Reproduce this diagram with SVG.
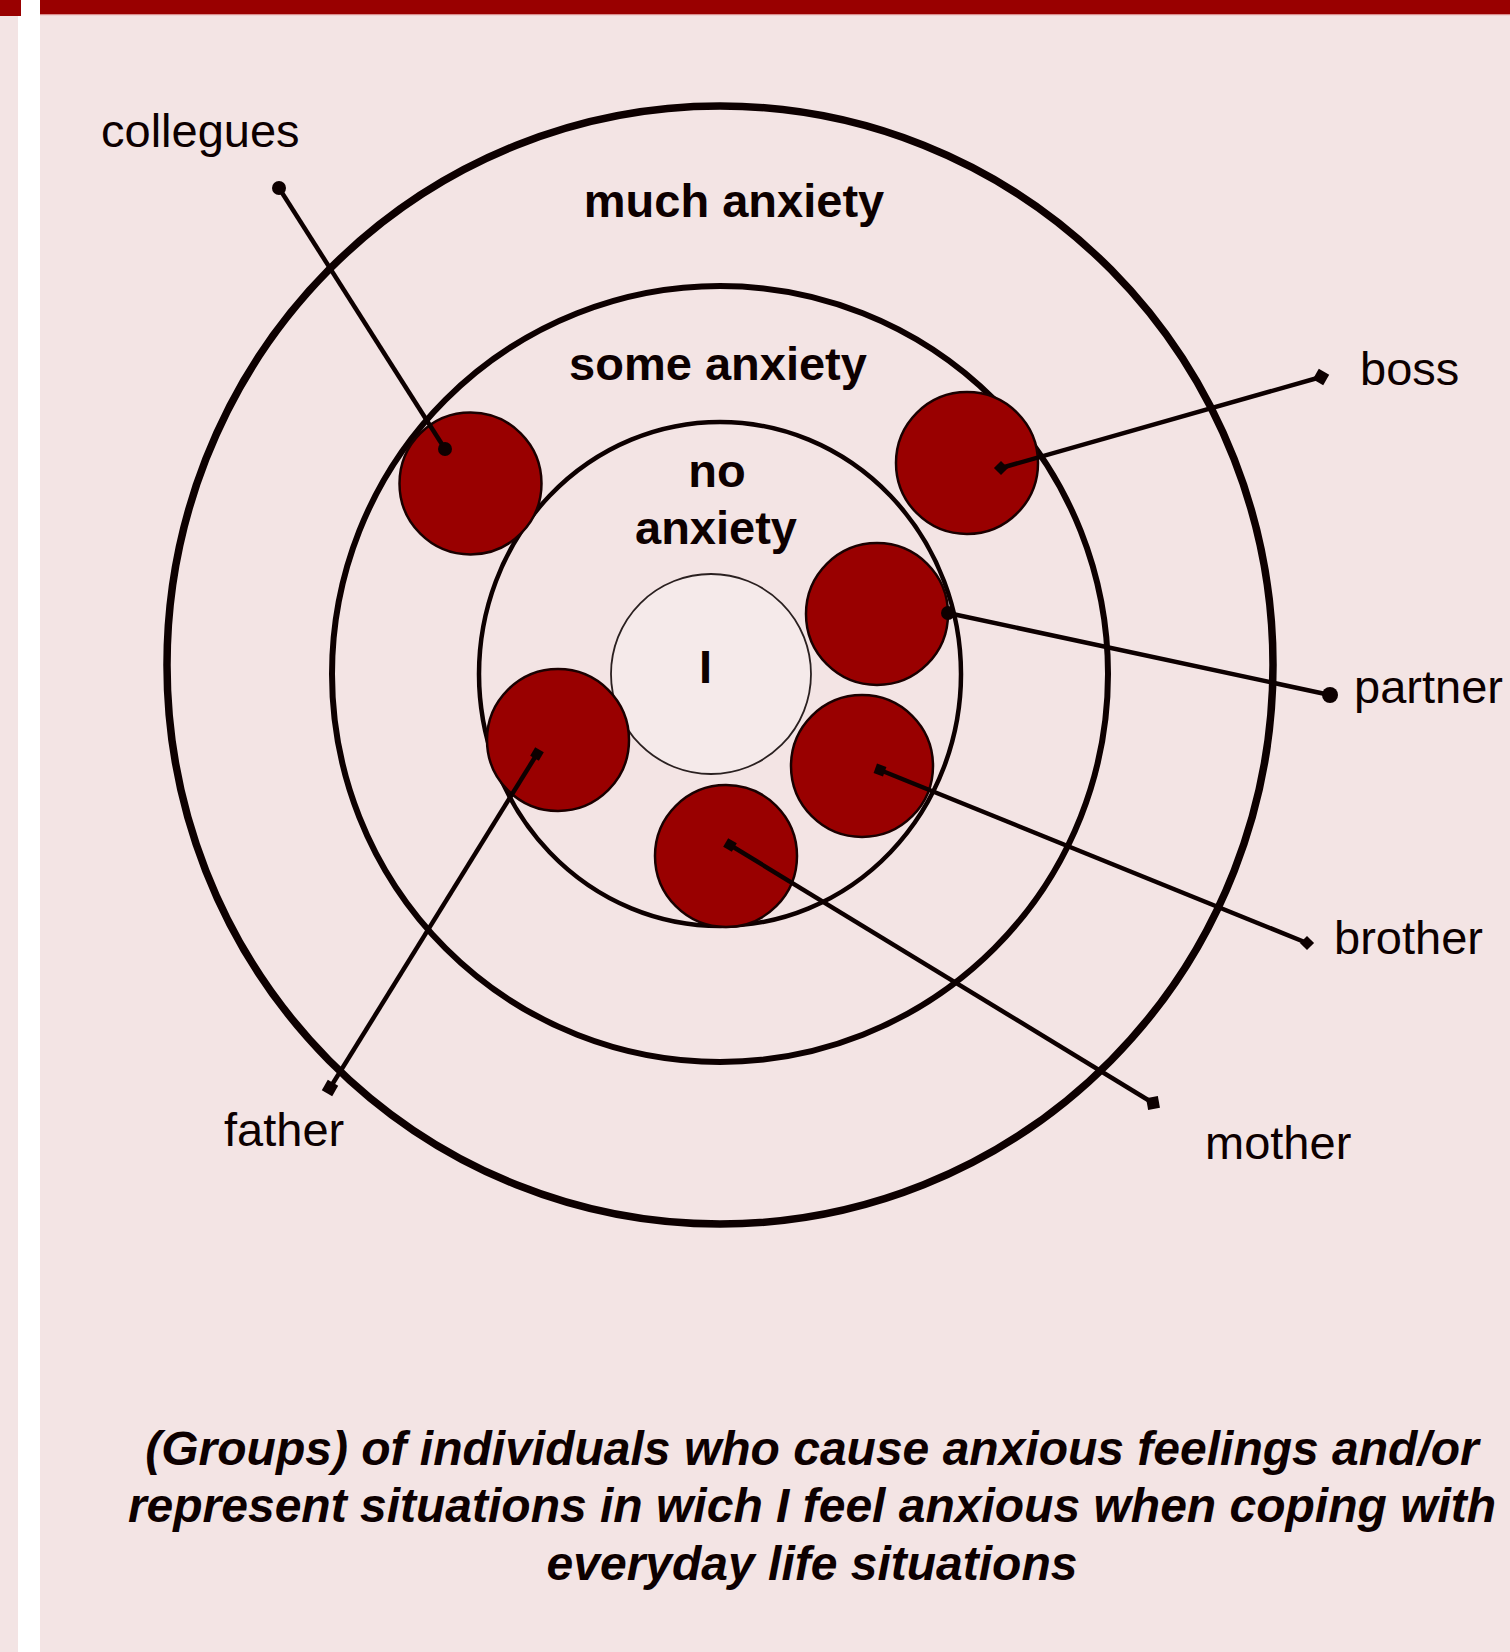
<svg xmlns="http://www.w3.org/2000/svg" width="1510" height="1652" viewBox="0 0 1510 1652">
  <style>
    .ring { fill: none; stroke: #0d0000; }
    .person { fill: #990000; stroke: #1a0000; stroke-width: 2.5; }
    .lbl { font-family: "Liberation Sans", Arial, sans-serif; font-size: 47px; fill: #0d0000; }
    .zone { font-family: "Liberation Sans", Arial, sans-serif; font-size: 47px; font-weight: bold; fill: #0d0000; text-anchor: middle; }
    .cap { font-family: "Liberation Sans", Arial, sans-serif; font-size: 48px; font-weight: bold; font-style: italic; fill: #0d0000; text-anchor: middle; }
    .link { stroke: #0d0000; stroke-width: 4.5; fill: none; }
    .dot { fill: #0d0000; }
  </style>
  <!-- background panels -->
  <rect x="0" y="0" width="1510" height="1652" fill="#f3e4e4"/>
  <rect x="18" y="0" width="22" height="1652" fill="#ffffff"/>
  <rect x="0" y="0" width="21" height="16" fill="#990000"/>
  <rect x="40" y="0" width="1470" height="14" fill="#990000"/>
  <rect x="40" y="14" width="1470" height="1.2" fill="#d98c8c"/>

  <!-- rings -->
  <g id="ring-much">
    <ellipse class="ring" cx="720" cy="665" rx="553" ry="559" stroke-width="7.5"/>
  </g>
  <g id="ring-some">
    <ellipse class="ring" cx="720" cy="674" rx="388" ry="388" stroke-width="6"/>
  </g>
  <g id="ring-no">
    <ellipse class="ring" cx="720" cy="674" rx="241" ry="252" stroke-width="4.5"/>
  </g>

  <g id="zone-labels">
    <text class="zone" x="734" y="217">much anxiety</text>
    <text class="zone" x="718" y="380">some anxiety</text>
    <text class="zone" x="717" y="487">no</text>
    <text class="zone" x="716" y="544">anxiety</text>
  </g>

  <g id="self">
    <circle cx="711" cy="674" r="100" fill="#f5eaea" stroke="#2a2020" stroke-width="1.8"/>
    <text class="zone" x="705.5" y="683">I</text>
  </g>

  <g id="node-collegues">
    <circle class="person" cx="470.5" cy="483.5" r="71"/>
    <text class="lbl" x="101" y="147">collegues</text>
  </g>
  <g id="node-boss">
    <circle class="person" cx="967" cy="463" r="71"/>
    <text class="lbl" x="1360" y="385">boss</text>
  </g>
  <g id="node-partner">
    <circle class="person" cx="877" cy="614" r="71"/>
    <text class="lbl" x="1354" y="703">partner</text>
  </g>
  <g id="node-brother">
    <circle class="person" cx="862" cy="766" r="71"/>
    <text class="lbl" x="1334" y="954">brother</text>
  </g>
  <g id="node-mother">
    <circle class="person" cx="726" cy="856" r="71"/>
    <text class="lbl" x="1205" y="1159">mother</text>
  </g>
  <g id="node-father">
    <circle class="person" cx="558" cy="740" r="71"/>
    <text class="lbl" x="224" y="1146">father</text>
  </g>

  <g id="connectors">
    <!-- collegues -->
    <line class="link" x1="279" y1="188" x2="445" y2="449"/>
    <circle class="dot" cx="279" cy="188" r="7"/>
    <circle class="dot" cx="445" cy="449" r="7"/>
    <!-- boss -->
    <line class="link" x1="1001" y1="468" x2="1321" y2="377"/>
    <rect class="dot" x="-5" y="-5" width="10" height="10" transform="translate(1001 468) rotate(45)"/>
    <rect class="dot" x="-6" y="-6" width="12" height="12" transform="translate(1321 377) rotate(30)"/>
    <!-- partner -->
    <line class="link" x1="948" y1="613" x2="1330" y2="695"/>
    <circle class="dot" cx="948" cy="613" r="7"/>
    <circle class="dot" cx="1330" cy="695" r="8"/>
    <!-- brother -->
    <line class="link" x1="880" y1="770" x2="1307" y2="943"/>
    <rect class="dot" x="-5" y="-5" width="10" height="10" transform="translate(880 770) rotate(20)"/>
    <rect class="dot" x="-5" y="-5" width="10" height="10" transform="translate(1307 943) rotate(45)"/>
    <!-- mother -->
    <line class="link" x1="730" y1="845" x2="1153" y2="1103"/>
    <rect class="dot" x="-5" y="-5" width="10" height="10" transform="translate(730 845) rotate(30)"/>
    <rect class="dot" x="-6" y="-6" width="12" height="12" transform="translate(1153 1103) rotate(-10)"/>
    <!-- father -->
    <line class="link" x1="537" y1="754" x2="330" y2="1088"/>
    <rect class="dot" x="-5" y="-5" width="10" height="10" transform="translate(537 754) rotate(30)"/>
    <rect class="dot" x="-6" y="-6" width="12" height="12" transform="translate(330 1088) rotate(30)"/>
  </g>

  <g id="caption">
    <text class="cap" x="812" y="1465">(Groups) of individuals who cause anxious feelings and/or</text>
    <text class="cap" x="812" y="1522">represent situations in wich I feel anxious when coping with</text>
    <text class="cap" x="812" y="1580">everyday life situations</text>
  </g>
</svg>
